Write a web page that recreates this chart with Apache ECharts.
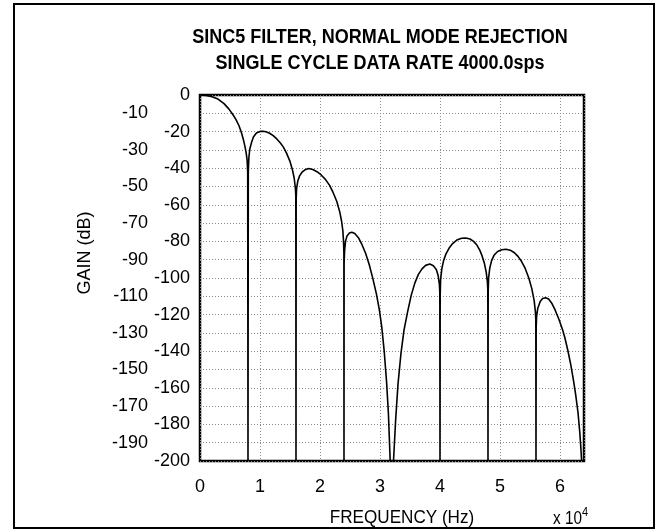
<!DOCTYPE html>
<html><head><meta charset="utf-8">
<script src="https://cdn.jsdelivr.net/npm/echarts@6/dist/echarts.min.js"></script>
<style>html,body{margin:0;padding:0;background:#fff}#c{width:657px;height:532px}</style>
</head><body><div id="c"></div>
<script>
const titleLines = ['SINC5 FILTER, NORMAL MODE REJECTION', 'SINGLE CYCLE DATA RATE 4000.0sps'];
const xAxisName = 'FREQUENCY (Hz)';
const yAxisName = 'GAIN (dB)';
const xScaleBase = 'x 10';
const xScaleExp = '4';
// frequency in units of 10^4 Hz
const freq = [
  0, 0.1, 0.2, 0.3, 0.4, 0.48, 0.55, 0.6, 0.65, 0.69, 0.72, 0.75, 0.77, 0.785, 0.795, 0.8,
  0.805, 0.815, 0.83, 0.86, 0.89, 0.94, 1.0, 1.05, 1.1, 1.16, 1.22, 1.28, 1.34, 1.39, 1.44, 1.5, 1.54, 1.57, 1.59, 1.597, 1.6,
  1.603, 1.61, 1.63, 1.66, 1.7, 1.75, 1.81, 1.88, 1.95, 2.02, 2.09, 2.16, 2.22, 2.28, 2.33, 2.36, 2.38, 2.392, 2.398, 2.4,
  2.402, 2.41, 2.425, 2.45, 2.49, 2.53, 2.58, 2.64, 2.7, 2.76, 2.82, 2.88, 2.94, 2.99, 3.03, 3.07, 3.11, 3.14, 3.17,
  3.225, 3.26, 3.3, 3.35, 3.4, 3.46, 3.52, 3.58, 3.64, 3.7, 3.76, 3.83, 3.89, 3.94, 3.97, 3.99, 3.997, 4.0,
  4.003, 4.01, 4.03, 4.06, 4.1, 4.15, 4.21, 4.28, 4.36, 4.43, 4.5, 4.56, 4.61, 4.66, 4.7, 4.74, 4.77, 4.79, 4.797, 4.8,
  4.803, 4.81, 4.83, 4.86, 4.9, 4.96, 5.03, 5.1, 5.17, 5.24, 5.3, 5.36, 5.42, 5.48, 5.53, 5.57, 5.59, 5.597, 5.6,
  5.603, 5.61, 5.63, 5.67, 5.71, 5.76, 5.81, 5.86, 5.92, 5.98, 6.04, 6.08, 6.13, 6.18, 6.22, 6.26, 6.3, 6.33, 6.35, 6.36
];
// gain in dB
const gain = [
  0, -0.2, -0.9, -2.2, -4.7, -7.6, -10.8, -13.5, -16.8, -20.5, -24, -28.2, -31.8, -35.5, -42, -200,
  -42, -34, -29.5, -25.8, -23, -20.8, -19.9, -19.8, -20.1, -20.9, -22.2, -24, -26.2, -28.5, -31.6, -36.3, -40.8, -45.5, -51, -55, -200,
  -57, -51, -47, -44.2, -42.2, -40.9, -40.2, -40.7, -41.9, -43.7, -46.1, -49.4, -53.4, -58.2, -64, -69, -74, -80, -86, -200,
  -92, -85, -80, -77, -75.4, -75, -75.7, -78, -81.8, -86.5, -92.6, -100.2, -108.7, -117.5, -127, -140, -157, -174, -200,
  -200, -178, -158, -141, -128.5, -118.5, -109.5, -102.8, -98, -95, -93.1, -92.4, -93.3, -95.5, -98.8, -103.5, -108, -200,
  -110, -101, -95, -90.5, -86.8, -83.8, -81.2, -79.3, -78.3, -78.1, -78.7, -80, -81.8, -84.6, -87.8, -92, -96.8, -102, -107, -200,
  -108, -100, -94.5, -90.5, -87.6, -85.5, -84.6, -84.3, -84.8, -86.2, -88.2, -91, -94.8, -100, -105.8, -112.5, -118.5, -123, -200,
  -127, -121, -116.5, -112.8, -111.2, -110.8, -111.5, -113.6, -117.6, -122.4, -128, -132.5, -139.5, -147.5, -155, -163.5, -173.5, -184.5, -194, -200
];
const xMin = 0, xMax = 6.4, xStep = 1;
const yMin = -200, yMax = 0, yStep = 10;

const FONT = "'Liberation Sans Narrow','Arial Narrow','Liberation Sans',Arial,sans-serif";
const chart = echarts.init(document.getElementById('c'), null, {renderer: 'canvas'});
const lab = {fontFamily: FONT, fontSize: 18, color: '#000'};
chart.setOption({
  animation: false,
  backgroundColor: '#fff',
  grid: {left: 200, right: 73, top: 95, bottom: 71, show: true, borderColor: '#000', borderWidth: 2.5, containLabel: false},
  xAxis: {
    type: 'value', min: xMin, max: xMax, interval: xStep,
    axisLine: {show: false}, axisTick: {show: false},
    splitLine: {show: true, lineStyle: {type: [1, 2], color: '#8a8a8a', width: 1}},
    axisLabel: Object.assign({margin: 17, showMaxLabel: false, formatter: v => String(v)}, lab)
  },
  yAxis: {
    type: 'value', min: yMin, max: yMax, interval: yStep,
    axisLine: {show: false}, axisTick: {show: false},
    splitLine: {show: true, lineStyle: {type: [1, 2], color: '#8a8a8a', width: 1}},
    axisLabel: Object.assign({
      margin: 10,
      formatter: v => (Math.abs(Math.round(v / 10)) % 2 === 1 ? '{o|' + v + '}' : '{e|' + v + '}'),
      rich: {o: Object.assign({padding: [0, 42, 0, 0]}, lab), e: Object.assign({}, lab)}
    }, lab)
  },
  series: [{
    type: 'line', data: freq.map((f, i) => [f, gain[i]]),
    showSymbol: false, symbol: 'none', clip: true,
    lineStyle: {color: '#000', width: 1.6}
  }],
  graphic: [
    {type: 'rect', shape: {x: 14, y: 4, width: 640, height: 524}, style: {fill: 'none', stroke: '#000', lineWidth: 2}},
    {type: 'text', x: 380, y: 37, scaleX: 0.9, style: {text: titleLines[0], align: 'center', verticalAlign: 'middle', font: 'bold 20px ' + FONT, fill: '#000'}},
    {type: 'text', x: 380, y: 63, scaleX: 0.9, style: {text: titleLines[1], align: 'center', verticalAlign: 'middle', font: 'bold 20px ' + FONT, fill: '#000'}},
    {type: 'text', x: 85, y: 253, rotation: Math.PI / 2, scaleX: 0.95, style: {text: yAxisName, align: 'center', verticalAlign: 'middle', font: '19px ' + FONT, fill: '#000'}},
    {type: 'text', x: 402, y: 518, scaleX: 0.9, style: {text: xAxisName, align: 'center', verticalAlign: 'middle', font: '19px ' + FONT, fill: '#000'}},
    {type: 'text', x: 553, y: 519, scaleX: 0.85, style: {text: xScaleBase, align: 'left', verticalAlign: 'middle', font: '18px ' + FONT, fill: '#000'}},
    {type: 'text', x: 582, y: 512, scaleX: 0.85, style: {text: xScaleExp, align: 'left', verticalAlign: 'middle', font: '13px ' + FONT, fill: '#000'}}
  ]
});
</script>
</body></html>
